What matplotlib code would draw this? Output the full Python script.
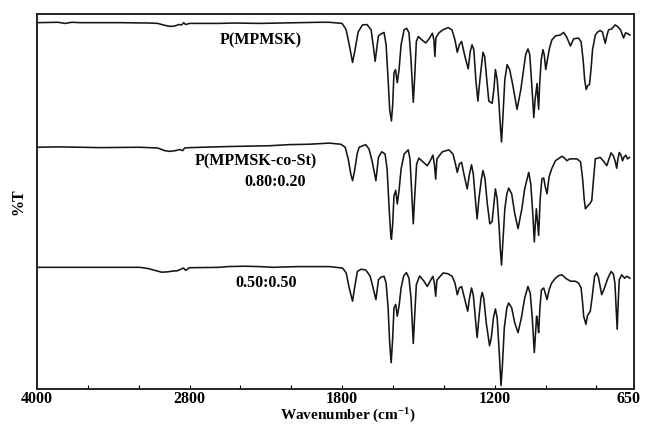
import numpy as np
import matplotlib
matplotlib.use("Agg")
import matplotlib.pyplot as plt
from matplotlib.transforms import ScaledTranslation

plt.rcParams["font.family"] = ["Liberation Serif", "DejaVu Serif"]
plt.rcParams["font.weight"] = "bold"
plt.rcParams["mathtext.fontset"] = "custom"
plt.rcParams["mathtext.rm"] = "Liberation Serif:bold"
plt.rcParams["mathtext.bf"] = "Liberation Serif:bold"
plt.rcParams["mathtext.default"] = "rm"

# ---- FTIR spectra (wavenumber in cm-1, transmittance in %) ----
wn_mpmsk = [4000, 3835, 3780, 3725, 3663, 3349, 3113, 3051, 2996, 2956, 2917, 2886, 2862, 2847,
            2831, 2800, 2564, 2446, 2250, 2093, 1968, 1890, 1851, 1800, 1784, 1772, 1759, 1749,
            1737, 1720, 1702, 1686, 1678, 1670, 1662, 1657, 1647, 1635, 1627, 1619, 1613, 1606,
            1601, 1596, 1590, 1583, 1576, 1568, 1556, 1546, 1537, 1529, 1523, 1520, 1515, 1508,
            1500, 1486, 1471, 1458, 1445, 1439, 1435, 1431, 1419, 1403, 1383, 1368, 1356, 1347,
            1339, 1330, 1323, 1317, 1304, 1296, 1289, 1282, 1274, 1266, 1258, 1246, 1239, 1231,
            1223, 1210, 1203, 1197, 1190, 1184, 1178, 1173, 1168, 1160, 1151, 1141, 1129, 1112,
            1097, 1086, 1078, 1069, 1062, 1054, 1046, 1041, 1033, 1031, 1027, 1023, 1017, 1010,
            1005, 999, 991, 984, 975, 960, 942, 929, 917, 902, 889, 870, 860, 852, 846, 840, 834,
            827, 821, 815, 804, 795, 785, 776, 765, 758, 752, 740, 726, 717, 705, 693, 685, 674, 668]
t_mpmsk = [97.7, 97.8, 97.5, 97.8, 97.7, 97.7, 97.6, 97.5, 97.0, 96.7, 96.8, 97.2, 97.1, 97.7,
           97.2, 97.5, 97.5, 97.6, 97.5, 97.6, 97.7, 97.8, 97.8, 97.5, 95.8, 91.8, 87.1, 90.5,
           95.2, 97.1, 97.2, 95.8, 91.8, 87.4, 91.8, 94.2, 94.7, 95.1, 91.8, 82.5, 74.6, 71.5,
           75.9, 84.3, 85.2, 81.7, 85.2, 91.8, 95.8, 96.2, 95.0, 87.8, 79.9, 76.5, 82.5, 92.7,
           94.0, 93.1, 92.3, 93.4, 94.9, 93.1, 88.7, 93.7, 95.0, 95.8, 96.4, 95.8, 93.1, 89.8,
           91.8, 92.7, 90.5, 88.7, 85.4, 90.0, 91.8, 90.5, 82.5, 76.8, 82.5, 89.8, 88.6, 82.5,
           76.8, 76.2, 79.9, 85.2, 82.5, 77.2, 70.6, 65.9, 72.0, 82.5, 86.5, 85.2, 81.2, 74.6,
           79.9, 85.2, 89.2, 90.7, 89.2, 81.2, 72.4, 77.2, 81.5, 78.6, 74.6, 81.2, 87.8, 90.5,
           89.2, 85.2, 88.4, 91.0, 93.1, 94.2, 94.4, 95.1, 93.9, 91.5, 93.4, 93.6, 92.6, 87.8,
           82.5, 79.9, 80.9, 81.2, 85.2, 90.5, 94.4, 95.2, 95.6, 95.2, 92.2, 94.4, 95.8, 96.0,
           97.1, 96.7, 95.8, 93.6, 95.0, 94.7, 94.4]

wn_8020 = [4000, 3820, 3506, 3192, 3051, 2996, 2956, 2909, 2878, 2854, 2839, 2800, 2486, 2172,
           2015, 1929, 1851, 1805, 1788, 1776, 1766, 1759, 1751, 1741, 1733, 1707, 1694, 1682,
           1667, 1662, 1657, 1644, 1631, 1623, 1615, 1609, 1606, 1601, 1596, 1589, 1583, 1576,
           1568, 1556, 1540, 1533, 1527, 1520, 1515, 1507, 1498, 1482, 1465, 1454, 1443, 1437,
           1432, 1427, 1406, 1380, 1364, 1354, 1347, 1339, 1330, 1321, 1308, 1299, 1291, 1284,
           1276, 1269, 1262, 1252, 1246, 1238, 1229, 1219, 1210, 1203, 1197, 1190, 1182, 1178,
           1173, 1168, 1160, 1152, 1145, 1133, 1121, 1108, 1093, 1082, 1066, 1058, 1050, 1044,
           1040, 1036, 1031, 1027, 1021, 1014, 1007, 1001, 994, 986, 976, 961, 935, 925, 916,
           905, 876, 862, 854, 848, 843, 834, 825, 818, 811, 804, 785, 772, 759, 750, 742, 733,
           726, 720, 715, 710, 703, 697, 691, 684, 678, 670]
t_8020 = [97.5, 97.6, 97.4, 97.5, 97.3, 96.6, 96.4, 96.6, 96.9, 96.6, 97.3, 97.4, 97.7, 97.9,
          98.2, 98.3, 98.6, 98.3, 97.5, 94.4, 90.4, 88.6, 91.2, 95.7, 97.5, 98.2, 97.0, 93.8,
          88.6, 91.7, 94.8, 96.3, 95.7, 91.7, 81.1, 74.5, 73.0, 77.1, 84.6, 86.0, 82.4, 86.0,
          91.7, 95.7, 96.8, 94.4, 86.4, 77.1, 83.7, 93.0, 94.6, 93.6, 92.6, 93.8, 95.4, 93.0,
          89.0, 94.4, 96.3, 96.8, 95.7, 93.0, 90.8, 93.0, 93.5, 90.4, 86.4, 90.4, 92.8, 90.4,
          83.7, 78.4, 83.7, 89.1, 91.3, 89.1, 82.5, 77.1, 77.7, 82.5, 86.4, 83.7, 75.8, 70.5,
          66.1, 71.8, 81.1, 85.1, 86.6, 85.1, 79.8, 75.8, 81.1, 86.4, 90.8, 87.7, 79.8, 72.3,
          77.1, 81.1, 77.1, 74.0, 83.7, 89.1, 89.3, 87.0, 85.1, 89.6, 91.7, 93.9, 95.1, 94.6,
          93.9, 94.4, 94.4, 93.6, 89.1, 83.8, 81.1, 81.9, 82.5, 83.3, 89.1, 94.4, 94.8, 93.8,
          92.6, 94.4, 96.0, 95.2, 93.8, 91.9, 94.4, 96.1, 95.4, 93.9, 94.9, 95.4, 94.4, 94.8]

wn_5050 = [4000, 3192, 3129, 3074, 3019, 2972, 2933, 2894, 2862, 2847, 2831, 2800, 2564, 2501,
           2368, 2250, 2133, 2054, 1968, 1851, 1798, 1784, 1772, 1759, 1751, 1740, 1725, 1707,
           1690, 1678, 1667, 1662, 1657, 1647, 1635, 1627, 1619, 1613, 1607, 1601, 1596, 1589,
           1583, 1576, 1568, 1558, 1547, 1537, 1529, 1523, 1520, 1515, 1508, 1495, 1478, 1465,
           1454, 1443, 1437, 1432, 1427, 1403, 1384, 1367, 1356, 1347, 1339, 1330, 1321, 1306,
           1299, 1291, 1284, 1276, 1269, 1262, 1254, 1249, 1243, 1233, 1220, 1213, 1205, 1197,
           1190, 1182, 1178, 1175, 1170, 1162, 1152, 1145, 1133, 1121, 1108, 1095, 1082, 1069,
           1060, 1052, 1044, 1039, 1035, 1031, 1027, 1022, 1016, 1007, 1001, 994, 986, 976, 961,
           948, 935, 917, 901, 883, 870, 860, 854, 850, 841, 835, 824, 817, 807, 799, 792, 779,
           768, 756, 742, 733, 727, 722, 718, 715, 710, 700, 689, 681, 674, 668]
t_5050 = [97.5, 97.5, 97.2, 96.7, 96.2, 96.3, 96.5, 96.6, 97.1, 97.3, 96.7, 97.4, 97.5, 97.7,
          97.8, 97.7, 97.5, 97.6, 97.7, 97.7, 97.3, 96.0, 92.0, 88.5, 92.0, 96.4, 97.0, 96.8,
          95.2, 92.0, 88.9, 91.5, 94.2, 94.9, 95.1, 93.3, 86.7, 77.4, 72.1, 78.8, 86.7, 87.6,
          84.5, 87.2, 92.0, 95.2, 96.1, 94.6, 89.3, 81.4, 77.2, 84.0, 92.9, 95.2, 93.8, 92.4,
          93.8, 95.1, 93.3, 89.8, 94.1, 96.0, 95.8, 95.1, 93.3, 90.2, 92.0, 92.4, 89.9, 85.8,
          89.3, 92.0, 90.1, 84.0, 78.8, 84.0, 89.3, 90.8, 89.3, 82.7, 76.6, 78.8, 84.0, 86.4,
          84.0, 74.8, 69.5, 66.0, 70.8, 81.4, 86.7, 88.0, 86.7, 82.7, 80.1, 84.0, 89.3, 92.4,
          90.6, 84.0, 74.8, 80.1, 84.5, 82.7, 80.1, 86.7, 91.5, 92.0, 90.6, 88.9, 91.5, 93.3,
          94.6, 95.3, 95.5, 94.4, 93.8, 93.8, 93.3, 92.0, 88.0, 84.5, 82.3, 84.6, 85.8, 89.3,
          95.1, 96.0, 94.9, 90.2, 92.0, 94.4, 96.4, 95.7, 93.3, 86.7, 81.0, 86.7, 94.2, 95.5,
          94.6, 95.1, 94.9, 94.6]

spectra = [(wn_mpmsk, t_mpmsk), (wn_8020, t_8020), (wn_5050, t_5050)]
offsets = [0, -33, -65]

curve_labels = ["P(MPMSK)", "P(MPMSK-co-St)", "0.80:0.20", "0.50:0.50"]
label_wn = [2243, 2282, 2124, 2196]
label_t = [92.9, 60.6, 55.3, 28.3]

major_ticks = [4000, 2800, 1800, 1200, 650]
minor_ticks = [3600, 3200, 2400, 2000, 1600, 1400, 1000, 800]


# Instrument-style abscissa: 400 cm-1 per division above 2000, 200 below.
# The mapping is increasing in wavenumber; the axis is then inverted.
def forward(w):
    w = np.asarray(w, dtype=float)
    return np.where(w >= 2000, (w - 4000) / 400.0, -5 - (2000 - w) / 200.0)


def inverse(u):
    u = np.asarray(u, dtype=float)
    return np.where(u >= -5, 4000 + 400.0 * u, 2000 + 200.0 * (u + 5))


fig = plt.figure(figsize=(6.45, 4.25), dpi=100)
ax = fig.add_axes([0.0574, 0.084, 0.9263, 0.883])
ax.set_xscale("function", functions=(forward, inverse))

for (wn, t), off in zip(spectra, offsets):
    ax.plot(wn, np.asarray(t) + off, color="#151515", lw=1.15, solid_joinstyle="round")

ax.set_xlim(4000, 650)
ax.set_ylim(0, 100)

for s, wx, ty in zip(curve_labels, label_wn, label_t):
    ax.text(wx, ty, s, ha="center", va="center", fontsize=11.5, fontweight="bold")

ax.set_xticks(major_ticks)
ax.set_xticklabels([str(v) for v in major_ticks])
ax.set_xticks(minor_ticks, minor=True)
ax.set_yticks([])
ax.tick_params(axis="x", which="both", direction="in", length=3, width=0.8,
               labelsize=11.5, pad=1, top=False)
for lab in ax.get_xticklabels():
    lab.set_fontweight("bold")
# nudge the right-most label so it stays inside the figure
last = ax.get_xticklabels()[-1]
last.set_transform(last.get_transform() + ScaledTranslation(-4 / 72, 0, fig.dpi_scale_trans))

for sp in ax.spines.values():
    sp.set_linewidth(1.4)
    sp.set_color("#222222")

ax.set_xlabel("Wavenumber (cm$^{-1}$)", fontsize=11, fontweight="bold")
ax.xaxis.set_label_coords(0.52, -0.046)
ax.set_ylabel("%T", fontsize=11.5, fontweight="bold", labelpad=8)

fig.savefig("out.png", dpi=100)
